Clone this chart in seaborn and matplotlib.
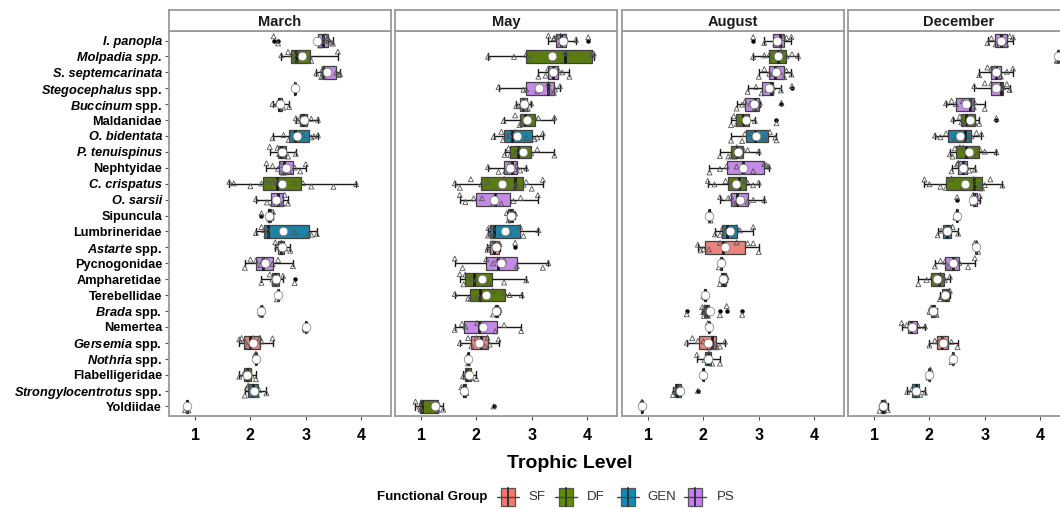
import numpy as np
import pandas as pd
import matplotlib
matplotlib.use("Agg")
import matplotlib.pyplot as plt
import seaborn as sns
from matplotlib.patches import Rectangle
from matplotlib.lines import Line2D

# ---------------- data ----------------
taxa = ["I. panopla", "Molpadia spp.", "S. septemcarinata", "Stegocephalus spp.",
        "Buccinum spp.", "Maldanidae", "O. bidentata", "P. tenuispinus", "Nephtyidae",
        "C. crispatus", "O. sarsii", "Sipuncula", "Lumbrineridae", "Astarte spp.",
        "Pycnogonidae", "Ampharetidae", "Terebellidae", "Brada spp.", "Nemertea",
        "Gersemia spp.", "Nothria spp.", "Flabelligeridae", "Strongylocentrotus spp.",
        "Yoldiidae"]
# italic portion of each label ("" = none)
italic_part = ["I. panopla", "Molpadia spp.", "S. septemcarinata", "Stegocephalus",
               "Buccinum", "", "O. bidentata", "P. tenuispinus", "",
               "C. crispatus", "O. sarsii", "", "", "Astarte",
               "", "", "", "Brada", "",
               "Gersemia", "Nothria", "", "Strongylocentrotus", ""]
taxon_group = ["PS", "DF", "PS", "PS", "PS", "DF", "GEN", "DF", "PS", "DF", "PS", "DF",
               "GEN", "SF", "PS", "DF", "DF", "DF", "PS", "SF", "GEN", "DF", "GEN", "DF"]
group_order = ["SF", "DF", "GEN", "PS"]
group_colors = ["#F8766D", "#5E8E00", "#0A8DB9", "#C77CF5"]
months = ["March", "May", "August", "December"]
x_ticks = [1, 2, 3, 4]

march = {
    "I. panopla": [2.42, 2.5, 3.2, 3.22, 3.26, 3.3, 3.34, 3.36, 3.4, 3.42, 3.45, 3.49],
    "Molpadia spp.": [2.56, 2.68, 2.75, 2.8, 2.85, 3.07, 3.1, 3.58],
    "S. septemcarinata": [3.19, 3.28, 3.3, 3.31, 3.31, 3.33, 3.55, 3.6, 3.62],
    "Stegocephalus spp.": [2.79, 2.81],
    "Buccinum spp.": [2.40, 2.49, 2.49, 2.55, 2.59, 2.7],
    "Maldanidae": [2.82, 2.85, 2.9, 2.93, 2.97, 3.0, 3.1, 3.22],
    "O. bidentata": [2.4, 2.6, 2.69, 2.75, 2.8, 2.82, 2.95, 3.1, 3.15, 3.22],
    "P. tenuispinus": [2.35, 2.49, 2.52, 2.55, 2.59, 2.68, 2.82],
    "Nephtyidae": [2.29, 2.4, 2.5, 2.55, 2.59, 2.62, 2.7, 2.8, 2.9, 3.0],
    "C. crispatus": [1.62, 1.7, 2.0, 2.2, 2.3, 2.4, 2.47, 2.5, 2.6, 2.8, 2.95, 3.1, 3.5, 3.91],
    "O. sarsii": [2.1, 2.3, 2.4, 2.45, 2.53, 2.58, 2.62, 2.68],
    "Sipuncula": [2.2, 2.32, 2.34, 2.38, 2.41],
    "Lumbrineridae": [2.1, 2.2, 2.25, 2.29, 2.32, 2.8, 3.05, 3.1, 3.2],
    "Astarte spp.": [2.45, 2.48, 2.53, 2.56, 2.6, 2.63, 2.72],
    "Pycnogonidae": [1.9, 2.0, 2.1, 2.18, 2.23, 2.3, 2.4, 2.5, 2.77],
    "Ampharetidae": [2.2, 2.35, 2.4, 2.43, 2.47, 2.5, 2.59, 2.8],
    "Terebellidae": [2.48, 2.5, 2.52],
    "Brada spp.": [2.18, 2.2, 2.22],
    "Nemertea": [2.98, 3.0, 3.02],
    "Gersemia spp.": [1.8, 1.84, 1.9, 1.95, 2.05, 2.17, 2.2, 2.4],
    "Nothria spp.": [2.08, 2.1, 2.12],
    "Flabelligeridae": [1.8, 1.88, 1.92, 1.95, 2.02, 2.1],
    "Strongylocentrotus spp.": [1.9, 1.94, 1.96, 2.05, 2.12, 2.16, 2.29],
    "Yoldiidae": [0.82, 0.85, 0.88],
}
may = {
    "I. panopla": [3.3, 3.4, 3.41, 3.45, 3.5, 3.52, 3.55, 3.6, 3.62, 3.8, 4.02],
    "Molpadia spp.": [2.21, 2.68, 2.9, 2.95, 3.6, 3.62, 4.08, 4.1, 4.12],
    "S. septemcarinata": [3.12, 3.25, 3.3, 3.35, 3.38, 3.42, 3.48, 3.55, 3.68],
    "Stegocephalus spp.": [2.4, 2.85, 2.9, 3.1, 3.3, 3.33, 3.4, 3.42, 3.51],
    "Buccinum spp.": [2.72, 2.76, 2.82, 2.85, 2.9, 2.93, 2.99],
    "Maldanidae": [2.49, 2.7, 2.78, 2.82, 2.87, 2.95, 3.05, 3.12, 3.41],
    "O. bidentata": [2.31, 2.45, 2.48, 2.55, 2.6, 2.7, 2.9, 3.05, 3.1, 3.2],
    "P. tenuispinus": [2.51, 2.58, 2.61, 2.7, 2.76, 2.9, 2.99, 3.1, 3.41],
    "Nephtyidae": [2.21, 2.4, 2.52, 2.6, 2.7, 2.72, 2.79, 2.9],
    "C. crispatus": [1.61, 1.7, 1.9, 2.09, 2.2, 2.5, 2.7, 2.72, 2.75, 2.85, 2.9, 3.0, 3.2],
    "O. sarsii": [1.7, 1.8, 1.95, 2.1, 2.3, 2.36, 2.45, 2.67, 2.8, 3.11],
    "Sipuncula": [2.55, 2.58, 2.62, 2.66, 2.7],
    "Lumbrineridae": [2.21, 2.22, 2.25, 2.3, 2.31, 2.6, 2.79, 2.85, 3.12],
    "Astarte spp.": [2.2, 2.21, 2.28, 2.32, 2.4, 2.42, 2.7],
    "Pycnogonidae": [1.61, 1.75, 2.18, 2.3, 2.39, 2.5, 2.73, 3.2, 3.3],
    "Ampharetidae": [1.7, 1.77, 1.8, 1.91, 2.0, 2.22, 2.5, 2.9],
    "Terebellidae": [1.61, 1.85, 1.89, 2.0, 2.06, 2.3, 2.51, 2.6, 2.82],
    "Brada spp.": [2.3, 2.34, 2.38, 2.42],
    "Nemertea": [1.61, 1.74, 1.8, 2.01, 2.1, 2.34, 2.5, 2.81],
    "Gersemia spp.": [1.7, 1.85, 1.91, 2.0, 2.15, 2.2, 2.24, 2.4],
    "Nothria spp.": [1.83, 1.85, 1.87],
    "Flabelligeridae": [1.76, 1.8, 1.83, 1.91, 2.0],
    "Strongylocentrotus spp.": [1.73, 1.76, 1.8, 1.82],
    "Yoldiidae": [0.9, 0.98, 0.99, 1.0, 1.01, 1.3, 1.31, 1.4, 2.31],
}
august = {
    "I. panopla": [2.9, 3.1, 3.3, 3.35, 3.4, 3.45, 3.5, 3.59],
    "Molpadia spp.": [2.9, 3.1, 3.19, 3.3, 3.35, 3.4, 3.5, 3.6, 3.71],
    "S. septemcarinata": [3.0, 3.1, 3.19, 3.25, 3.3, 3.38, 3.46, 3.5, 3.59],
    "Stegocephalus spp.": [2.8, 2.95, 3.05, 3.15, 3.22, 3.24, 3.26, 3.4, 3.6],
    "Buccinum spp.": [2.6, 2.7, 2.75, 2.85, 2.93, 2.97, 3.0, 3.02, 3.41],
    "Maldanidae": [2.5, 2.55, 2.6, 2.67, 2.75, 2.8, 2.93, 3.32],
    "O. bidentata": [2.5, 2.7, 2.75, 2.85, 2.9, 2.95, 3.1, 3.2, 3.3, 3.32],
    "P. tenuispinus": [2.3, 2.45, 2.5, 2.56, 2.6, 2.68, 2.72, 2.8, 3.0],
    "Nephtyidae": [2.11, 2.3, 2.42, 2.6, 2.72, 2.9, 3.1, 3.14, 3.18],
    "C. crispatus": [2.08, 2.2, 2.4, 2.5, 2.55, 2.65, 2.7, 2.75, 2.8, 2.9, 3.0],
    "O. sarsii": [2.3, 2.45, 2.5, 2.55, 2.6, 2.7, 2.8, 2.9, 3.1],
    "Sipuncula": [2.09, 2.11, 2.13],
    "Lumbrineridae": [2.21, 2.3, 2.35, 2.39, 2.45, 2.6, 2.66, 2.9],
    "Astarte spp.": [1.9, 1.95, 2.0, 2.1, 2.3, 2.4, 2.6, 2.8, 2.9, 3.0],
    "Pycnogonidae": [2.28, 2.32, 2.36],
    "Ampharetidae": [2.3, 2.32, 2.36, 2.4, 2.42],
    "Terebellidae": [2.0, 2.03, 2.06],
    "Brada spp.": [1.7, 1.98, 2.0, 2.01, 2.02, 2.04, 2.05, 2.06, 2.08, 2.09, 2.1, 2.3, 2.42, 2.7],
    "Nemertea": [2.08, 2.1, 2.12],
    "Gersemia spp.": [1.7, 1.8, 1.9, 2.0, 2.1, 2.2, 2.22, 2.24, 2.3, 2.39],
    "Nothria spp.": [1.88, 2.02, 2.06, 2.1, 2.16, 2.3],
    "Flabelligeridae": [1.98, 2.0, 2.02],
    "Strongylocentrotus spp.": [1.45, 1.48, 1.5, 1.55, 1.6, 1.9],
    "Yoldiidae": [0.87, 0.89, 0.91],
}
december = {
    "I. panopla": [3.05, 3.12, 3.2, 3.27, 3.33, 3.39, 3.45, 3.51],
    "Molpadia spp.": [4.3, 4.32, 4.34],
    "S. septemcarinata": [2.9, 3.05, 3.12, 3.18, 3.2, 3.25, 3.29, 3.4, 3.51],
    "Stegocephalus spp.": [2.81, 3.0, 3.12, 3.2, 3.29, 3.31, 3.33, 3.4, 3.45],
    "Buccinum spp.": [2.3, 2.4, 2.48, 2.6, 2.74, 2.76, 2.8, 2.81, 3.0],
    "Maldanidae": [2.43, 2.55, 2.58, 2.62, 2.67, 2.75, 2.82, 2.9, 3.21],
    "O. bidentata": [2.1, 2.2, 2.3, 2.45, 2.6, 2.7, 2.72, 2.76, 2.85, 2.94],
    "P. tenuispinus": [2.37, 2.42, 2.46, 2.55, 2.61, 2.7, 2.85, 2.91, 3.0, 3.21],
    "Nephtyidae": [2.4, 2.5, 2.52, 2.58, 2.62, 2.66, 2.72, 2.82],
    "C. crispatus": [1.91, 2.0, 2.2, 2.3, 2.4, 2.6, 2.8, 2.82, 2.9, 2.95, 3.0, 3.1, 3.32],
    "O. sarsii": [2.5, 2.78, 2.79, 2.82, 2.88, 2.91],
    "Sipuncula": [2.47, 2.49, 2.51],
    "Lumbrineridae": [2.15, 2.21, 2.28, 2.31, 2.36, 2.42, 2.52],
    "Astarte spp.": [2.82, 2.85, 2.88],
    "Pycnogonidae": [2.1, 2.2, 2.28, 2.35, 2.42, 2.48, 2.54, 2.7, 2.82],
    "Ampharetidae": [1.8, 1.95, 2.06, 2.15, 2.2, 2.25, 2.28, 2.37],
    "Terebellidae": [2.19, 2.22, 2.3, 2.35, 2.37],
    "Brada spp.": [2.0, 2.03, 2.07, 2.1, 2.13],
    "Nemertea": [1.5, 1.59, 1.65, 1.7, 1.8, 1.92],
    "Gersemia spp.": [2.0, 2.1, 2.15, 2.2, 2.25, 2.31, 2.4, 2.51],
    "Nothria spp.": [2.4, 2.42, 2.44],
    "Flabelligeridae": [1.98, 2.0, 2.02],
    "Strongylocentrotus spp.": [1.6, 1.68, 1.74, 1.78, 1.83, 1.92],
    "Yoldiidae": [1.1, 1.13, 1.16, 1.2, 1.25],
}

# ---------------- build long table ----------------
rows = []
for m, d in zip(months, [march, may, august, december]):
    for t, g in zip(taxa, taxon_group):
        for v in d[t]:
            rows.append((m, t, g, v))
df = pd.DataFrame(rows, columns=["month", "taxon", "group", "tl"])
palette = dict(zip(group_order, group_colors))

# ---------------- style ----------------
sns.set_theme(style="white")
plt.rcParams["font.family"] = ["Liberation Sans", "DejaVu Sans"]
plt.rcParams["text.color"] = "black"
plt.rcParams["xtick.color"] = "black"
plt.rcParams["ytick.color"] = "black"
plt.rcParams["mathtext.fontset"] = "custom"
plt.rcParams["mathtext.bf"] = "Liberation Sans:bold"
plt.rcParams["mathtext.bfit"] = "Liberation Sans:italic:bold"
plt.rcParams["mathtext.it"] = "Liberation Sans:italic:bold"
plt.rcParams["mathtext.rm"] = "Liberation Sans:bold"


def make_label(name, ital):
    # fully italic or plain labels are ordinary text; mixed ones use mathtext
    if ital == "" or ital == name:
        return name
    rest = name[len(ital):]
    return (r"$\mathbfit{" + ital + r"}\mathbf{" + rest.replace(" ", r"\;") + "}$")


labels = [make_label(n, i) for n, i in zip(taxa, italic_part)]

W, H = 1060, 509
fig = plt.figure(figsize=(W / 100, H / 100), dpi=100)
panel_left = [169, 395, 622, 848]
pw = 222
ptop, pbot = 31, 416
spine_col = "#9a9a9a"
np.random.seed(7)

for k, m in enumerate(months):
    x0 = panel_left[k]
    ax = fig.add_axes([x0 / W, 1 - pbot / H, pw / W, (pbot - ptop) / H])
    sub = df[df.month == m]
    sns.boxplot(data=sub, x="tl", y="taxon", hue="group", order=taxa,
                hue_order=group_order, palette=palette, dodge=False, width=0.8,
                linewidth=0.9, linecolor="#404040", fliersize=2.2, legend=False,
                flierprops=dict(marker="o", markerfacecolor="black",
                                markeredgecolor="black"),
                medianprops=dict(color="#1a1a1a", linewidth=2.0),
                whiskerprops=dict(color="#1a1a1a", linewidth=1.0),
                capprops=dict(color="#1a1a1a", linewidth=1.0),
                ax=ax)
    sns.stripplot(data=sub, x="tl", y="taxon", order=taxa, jitter=0.32,
                  marker="^", size=3.6, facecolor="none", color="#555555",
                  edgecolor="#555555", linewidth=0.6, ax=ax, zorder=3)
    sns.pointplot(data=sub, x="tl", y="taxon", order=taxa, estimator="mean",
                  errorbar=None, linestyle="none", marker="o", color="white",
                  markersize=6.2, markerfacecolor="white", markeredgecolor="#777777",
                  markeredgewidth=0.5, ax=ax, zorder=5)
    ax.set_xlim(0.53, 4.54)
    ax.set_ylim(len(taxa) - 0.4, -0.6)
    ax.set_xlabel("")
    ax.set_ylabel("")
    ax.set_xticks(x_ticks)
    ax.set_xticklabels([str(t) for t in x_ticks], fontsize=11.5, fontweight="bold",
                       color="black")
    ax.tick_params(axis="x", length=3, width=0.8, color="#555555", pad=6,
                   bottom=True)
    ax.set_yticks(range(len(taxa)))
    if k == 0:
        ax.set_yticklabels(labels, fontsize=9.2, fontweight="bold", color="black")
        for tl, n, i in zip(ax.get_yticklabels(), taxa, italic_part):
            if i == n:
                tl.set_fontstyle("italic")
        ax.tick_params(axis="y", length=3, width=0.8, color="#555555", pad=2,
                       left=True)
    else:
        ax.set_yticklabels([])
        ax.tick_params(axis="y", length=0, left=False)
    for s in ax.spines.values():
        s.set_color(spine_col)
        s.set_linewidth(1.3)
        s.set_visible(True)
    # strip header
    hax = fig.add_axes([x0 / W, 1 - ptop / H, pw / W, 21 / H])
    hax.set_xticks([])
    hax.set_yticks([])
    hax.set_facecolor("white")
    for s in hax.spines.values():
        s.set_color(spine_col)
        s.set_linewidth(1.3)
    hax.text(0.5, 0.45, m, ha="center", va="center", fontsize=10.5,
             fontweight="bold", color="#1a1a1a", transform=hax.transAxes)

fig.text(570 / W, 1 - 463 / H, "Trophic Level", ha="center", va="center",
         fontsize=14, fontweight="bold", color="black")

# legend
ly = 497
fig.text(487 / W, 1 - ly / H, "Functional Group", ha="right", va="center",
         fontsize=9.5, fontweight="bold", color="black")
key_x = [508, 566, 628, 695]
lab_x = [528, 587, 647, 717]
for g, c, kx, lx in zip(group_order, group_colors, key_x, lab_x):
    fig.add_artist(Line2D([(kx - 11) / W, (kx + 11) / W], [1 - ly / H] * 2,
                          color="#444444", lw=1.0))
    fig.add_artist(Rectangle(((kx - 7) / W, 1 - (ly + 9) / H), 14 / W, 18 / H,
                             facecolor=c, edgecolor="#555555", lw=0.9))
    fig.add_artist(Line2D([kx / W] * 2, [1 - (ly + 9) / H, 1 - (ly - 9) / H],
                          color="#333333", lw=1.4))
    fig.text(lx / W, 1 - ly / H, g, ha="left", va="center", fontsize=9.5,
             color="#333333")

fig.savefig("out.png", dpi=100)
